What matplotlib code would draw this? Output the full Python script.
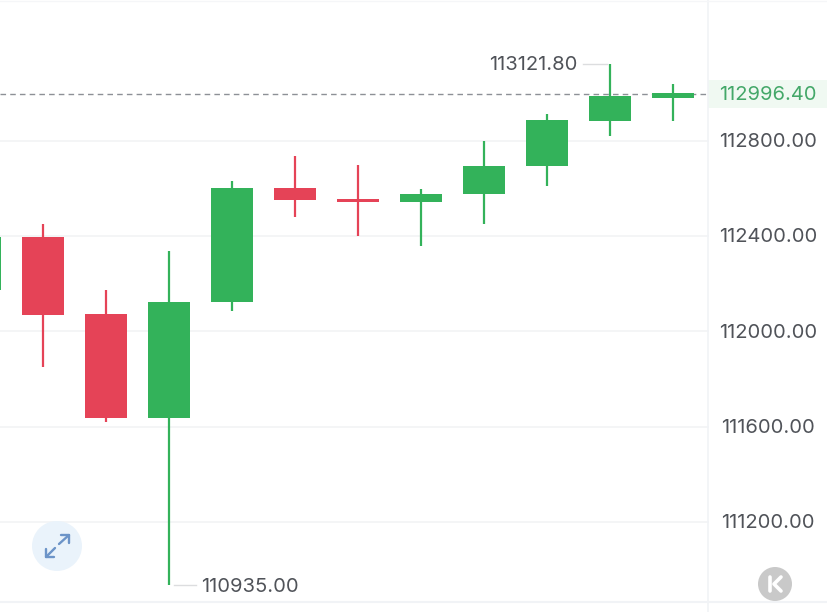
import matplotlib
matplotlib.use("Agg")
import matplotlib.pyplot as plt
from matplotlib.patches import Circle, Rectangle
from matplotlib.lines import Line2D
from matplotlib.transforms import IdentityTransform, offset_copy

# candle values
positions = [-1, 0, 1, 2, 3, 4, 5, 6, 7, 8, 9, 10]
opens  = [112173, 112395, 112072, 111636, 112123, 112601, 112555, 112542, 112576, 112693, 112882, 112977]
closes = [112395, 112068, 111636, 112123, 112601, 112550, 112542, 112576, 112693, 112886, 112987, 112999]
highs  = [112450, 112450, 112173, 112337, 112630, 112735, 112697, 112597, 112798, 112911, 113121.8, 113037]
lows   = [112100, 111850, 111620, 110935, 112085, 112479, 112399, 112358, 112450, 112609, 112819, 112882]
up_flags = [True, False, False, True, True, False, False, True, True, True, True, True]

y_ticks = [112800, 112400, 112000, 111600, 111200]
last_price = 112996.40
max_label = "113121.80"
min_label = "110935.00"
max_price = 113121.8
min_price = 110935.0

GREEN = "#33b25a"
RED = "#e54357"
TEXT = "#505359"
FS = 14.5
W, H = 828, 612
PX_PER_UNIT = 381.5 / 1600.0
STEP = 63.0

plt.rcParams["font.family"] = ["Inter", "DejaVu Sans"]
fig = plt.figure(figsize=(W / 100, H / 100), dpi=100, facecolor="white")
ax = fig.add_axes([0, 0, 1, 1])
ax.set_xlim(-43 / STEP, (W - 43) / STEP)
ax.set_ylim(112800 - (H - 140.5) / PX_PER_UNIT, 112800 + 140.5 / PX_PER_UNIT)
ax.axis("off")
txt_tr = offset_copy(ax.transData, fig=fig, x=0, y=-1.5, units="dots")

def px(x, y):
    return (x / W, 1 - y / H)

x_axis_end = (708 - 43) / STEP
x_right = (W - 43) / STEP
label_x = (768 - 43) / STEP

for v in y_ticks:
    ax.plot([ax.get_xlim()[0], x_axis_end], [v, v], color="#f2f3f5", lw=1.2, zorder=1)
    ax.text(label_x, v, f"{v:.2f}", ha="center", va="center", fontsize=FS,
            color=TEXT, zorder=6, transform=txt_tr)

# last price tag and line
tag_half = 14 / PX_PER_UNIT
ax.add_patch(Rectangle((x_axis_end, last_price - tag_half), x_right - x_axis_end, 2 * tag_half,
                       facecolor="#f0f9f2", edgecolor="none", zorder=2))
ax.plot([ax.get_xlim()[0], x_axis_end], [last_price, last_price], color="#8d9096", lw=1,
        dashes=(4, 3), zorder=2)
ax.text(label_x, last_price, f"{last_price:.2f}", ha="center", va="center", fontsize=FS,
        color="#44a869", zorder=6, transform=txt_tr)

# frame lines
fig.add_artist(Line2D([708 / W, 708 / W], [0, 1], color="#f1f3f6", lw=1.2))
fig.add_artist(Line2D([0, 1], [1 - 602 / H] * 2, color="#f1f3f6", lw=1.5))
fig.add_artist(Line2D([0, 1], [1 - 0.5 / H] * 2, color="#f5f6f8", lw=1))

# candles
body_w = 42 / STEP
for p, o, c, h, l, up in zip(positions, opens, closes, highs, lows, up_flags):
    col = GREEN if up else RED
    ax.plot([p, p], [l, h], color=col, lw=1.6, solid_capstyle="butt", zorder=4)
    ax.add_patch(Rectangle((p - body_w / 2, min(o, c)), body_w, abs(c - o),
                           facecolor=col, edgecolor="none", zorder=5))

# high / low leaders
ax.plot([9 - 27 / STEP, 9 - 3 / STEP], [max_price] * 2, color="#dcdddf", lw=1, zorder=3)
ax.text(9 - 33 / STEP, max_price, max_label, ha="right", va="center", fontsize=FS,
        color=TEXT, zorder=6, transform=txt_tr)
ax.plot([2 + 5 / STEP, 2 + 27 / STEP], [min_price] * 2, color="#dcdddf", lw=1, zorder=3)
ax.text(2 + 32 / STEP, min_price, min_label, ha="left", va="center", fontsize=FS,
        color=TEXT, zorder=6, transform=txt_tr)

def circle(cx, cy, r, col):
    fig.add_artist(Circle((cx, H - cy), r, facecolor=col, edgecolor="none",
                          transform=IdentityTransform(), zorder=8))
def seg(pts, col, lw):
    xs = [px(a, b)[0] for a, b in pts]
    ys = [px(a, b)[1] for a, b in pts]
    fig.add_artist(Line2D(xs, ys, color=col, lw=lw, zorder=9, solid_capstyle="round",
                          solid_joinstyle="round"))

# expand button
circle(57, 546, 25, "#eaf3fb")
ARROW = "#6c94c8"
seg([(59, 544), (69, 535)], ARROW, 1.7)
seg([(61, 535), (69, 535), (69, 543)], ARROW, 1.7)
seg([(55, 548), (46, 557)], ARROW, 1.7)
seg([(46, 549), (46, 557), (54, 557)], ARROW, 1.7)

# collapse button
circle(775, 584, 17, "#c9c9c9")
seg([(770, 577), (770, 591)], "white", 2.6)
seg([(781, 577), (774, 584), (781, 591)], "white", 2.6)

fig.savefig("out.png", dpi=100, facecolor="white")
